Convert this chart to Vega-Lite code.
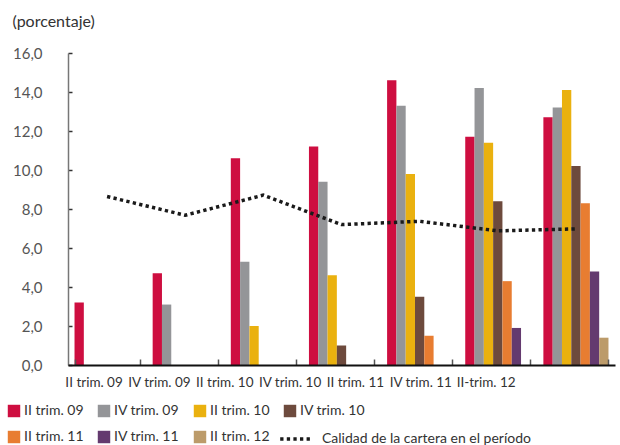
{
  "$schema": "https://vega.github.io/schema/vega-lite/v6.json",
  "width": 547,
  "height": 312,
  "autosize": {"type": "none"},
  "padding": {"left": 68, "top": 53, "right": 5, "bottom": 80},
  "background": "white",
  "config": {
    "font": "Lato",
    "view": {"stroke": null}
  },
  "datasets": {
    "barras": [
      {"periodo": "II trim. 09", "serie": "II trim. 09", "valor": 3.2},
      {"periodo": "IV trim. 09", "serie": "II trim. 09", "valor": 4.7},
      {"periodo": "IV trim. 09", "serie": "IV trim. 09", "valor": 3.1},
      {"periodo": "II trim. 10", "serie": "II trim. 09", "valor": 10.6},
      {"periodo": "II trim. 10", "serie": "IV trim. 09", "valor": 5.3},
      {"periodo": "II trim. 10", "serie": "II trim. 10", "valor": 2.0},
      {"periodo": "IV trim. 10", "serie": "II trim. 09", "valor": 11.2},
      {"periodo": "IV trim. 10", "serie": "IV trim. 09", "valor": 9.4},
      {"periodo": "IV trim. 10", "serie": "II trim. 10", "valor": 4.6},
      {"periodo": "IV trim. 10", "serie": "IV trim. 10", "valor": 1.0},
      {"periodo": "II trim. 11", "serie": "II trim. 09", "valor": 14.6},
      {"periodo": "II trim. 11", "serie": "IV trim. 09", "valor": 13.3},
      {"periodo": "II trim. 11", "serie": "II trim. 10", "valor": 9.8},
      {"periodo": "II trim. 11", "serie": "IV trim. 10", "valor": 3.5},
      {"periodo": "II trim. 11", "serie": "II trim. 11", "valor": 1.5},
      {"periodo": "IV trim. 11", "serie": "II trim. 09", "valor": 11.7},
      {"periodo": "IV trim. 11", "serie": "IV trim. 09", "valor": 14.2},
      {"periodo": "IV trim. 11", "serie": "II trim. 10", "valor": 11.4},
      {"periodo": "IV trim. 11", "serie": "IV trim. 10", "valor": 8.4},
      {"periodo": "IV trim. 11", "serie": "II trim. 11", "valor": 4.3},
      {"periodo": "IV trim. 11", "serie": "IV trim. 11", "valor": 1.9},
      {"periodo": "II-trim. 12", "serie": "II trim. 09", "valor": 12.7},
      {"periodo": "II-trim. 12", "serie": "IV trim. 09", "valor": 13.2},
      {"periodo": "II-trim. 12", "serie": "II trim. 10", "valor": 14.1},
      {"periodo": "II-trim. 12", "serie": "IV trim. 10", "valor": 10.2},
      {"periodo": "II-trim. 12", "serie": "II trim. 11", "valor": 8.3},
      {"periodo": "II-trim. 12", "serie": "IV trim. 11", "valor": 4.8},
      {"periodo": "II-trim. 12", "serie": "II trim. 12", "valor": 1.4}
    ],
    "calidad": [
      {"periodo": "II trim. 09", "serie": "Calidad de la cartera en el período", "valor": 8.64},
      {"periodo": "IV trim. 09", "serie": "Calidad de la cartera en el período", "valor": 7.68},
      {"periodo": "II trim. 10", "serie": "Calidad de la cartera en el período", "valor": 8.71},
      {"periodo": "IV trim. 10", "serie": "Calidad de la cartera en el período", "valor": 7.2},
      {"periodo": "II trim. 11", "serie": "Calidad de la cartera en el período", "valor": 7.37},
      {"periodo": "IV trim. 11", "serie": "Calidad de la cartera en el período", "valor": 6.88},
      {"periodo": "II-trim. 12", "serie": "Calidad de la cartera en el período", "valor": 6.98}
    ]
  },
  "encoding": {
    "x": {
      "field": "periodo",
      "type": "nominal",
      "sort": ["II trim. 09", "IV trim. 09", "II trim. 10", "IV trim. 10", "II trim. 11", "IV trim. 11", "II-trim. 12"],
      "scale": {"paddingInner": 0.167, "paddingOuter": 0.0835},
      "axis": {
        "title": null,
        "labelAngle": 0,
        "labelFontSize": 13.5,
        "labelColor": "#333333",
        "labelPadding": 16,
        "labelOffset": {"expr": "-13.5 - 12.8 * indexof(['II trim. 09', 'IV trim. 09', 'II trim. 10', 'IV trim. 10', 'II trim. 11', 'IV trim. 11', 'II-trim. 12'], datum.value)"},
        "tickBand": "extent",
        "tickSize": -6,
        "tickColor": "#555555",
        "tickWidth": 1.5,
        "domainColor": "#111111",
        "domainWidth": 2,
        "zindex": 1
      }
    },
    "y": {
      "field": "valor",
      "type": "quantitative",
      "scale": {"domain": [0, 16], "nice": false, "zero": true},
      "axis": {
        "title": "(porcentaje)",
        "titleAngle": 0,
        "titleAlign": "left",
        "titleBaseline": "alphabetic",
        "titleX": -56,
        "titleY": -27,
        "titleFontSize": 16,
        "titleFontWeight": "normal",
        "titleColor": "#333333",
        "values": [0, 2, 4, 6, 8, 10, 12, 14, 16],
        "labelExpr": "replace(format(datum.value, '.1f'), '.', ',')",
        "labelFontSize": 15,
        "labelColor": "#555555",
        "labelPadding": 30,
        "grid": false,
        "tickSize": -4,
        "tickColor": "#333333",
        "tickWidth": 1.5,
        "domainColor": "#777777",
        "domainWidth": 1.5
      }
    }
  },
  "layer": [
    {
      "data": {"name": "barras"},
      "mark": {"type": "bar"},
      "encoding": {
        "xOffset": {
          "field": "serie",
          "type": "nominal",
          "scale": {
            "domain": ["II trim. 09", "IV trim. 09", "II trim. 10", "IV trim. 10", "II trim. 11", "IV trim. 11", "II trim. 12"],
            "paddingInner": 0,
            "paddingOuter": 0
          }
        },
        "color": {
          "field": "serie",
          "type": "nominal",
          "scale": {
            "domain": ["II trim. 09", "IV trim. 09", "II trim. 10", "IV trim. 10", "II trim. 11", "IV trim. 11", "II trim. 12"],
            "range": ["#CE0E40", "#949598", "#EAB10F", "#6D4A3D", "#E87D31", "#643A6F", "#BC9B6A"]
          },
          "legend": {
            "title": null,
            "orient": "none",
            "legendX": -61,
            "legendY": 351,
            "direction": "horizontal",
            "columns": 4,
            "symbolType": "square",
            "symbolSize": 155,
            "symbolStrokeWidth": 0,
            "labelFontSize": 14,
            "labelColor": "#333333",
            "labelOffset": 3,
            "columnPadding": 13,
            "rowPadding": 12
          }
        }
      }
    },
    {
      "data": {"name": "calidad"},
      "mark": {
        "type": "line",
        "interpolate": "linear",
        "color": "#1a1a1a",
        "strokeWidth": 3.5,
        "strokeCap": "butt"
      },
      "encoding": {
        "strokeDash": {
          "field": "serie",
          "type": "nominal",
          "scale": {"domain": ["Calidad de la cartera en el período"], "range": [[3.3, 3.3]]},
          "legend": {
            "title": null,
            "orient": "none",
            "legendX": 210,
            "legendY": 368,
            "symbolType": "stroke",
            "symbolSize": 1000,
            "symbolStrokeWidth": 3.5,
            "symbolStrokeColor": "#1a1a1a",
            "labelFontSize": 14,
            "labelColor": "#333333",
            "labelOffset": 8,
            "labelLimit": 320
          }
        }
      }
    }
  ]
}
